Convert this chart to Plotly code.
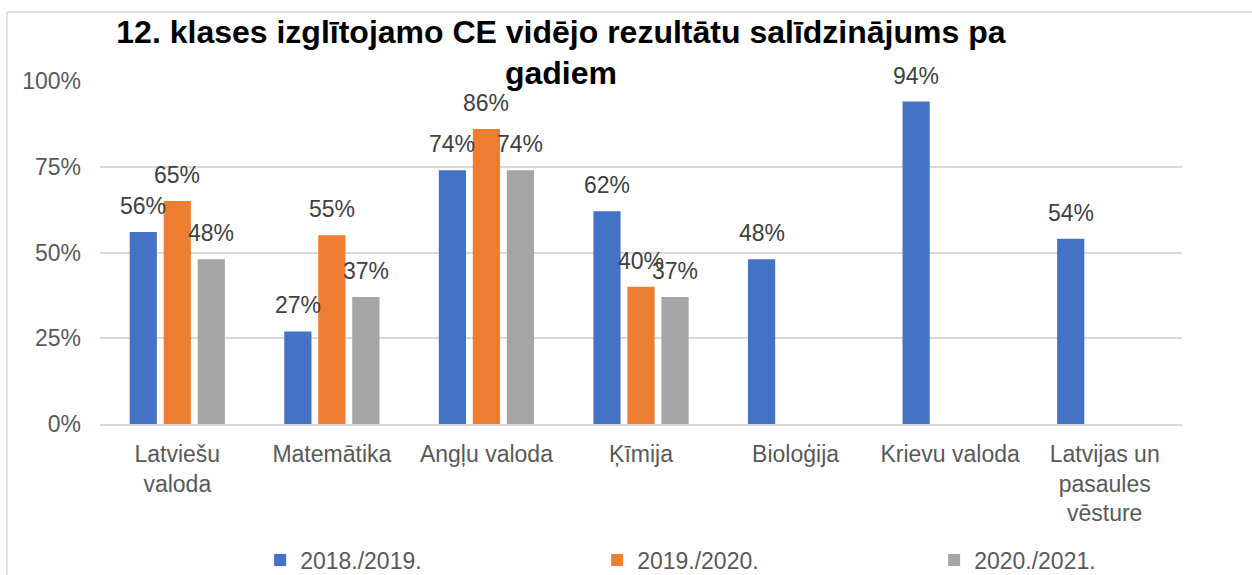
import plotly.graph_objects as go

categories = ["Latviešu valoda", "Matemātika", "Angļu valoda", "Ķīmija",
              "Bioloģija", "Krievu valoda", "Latvijas un pasaules vēsture"]
tick_labels = ["Latviešu<br>valoda", "Matemātika", "Angļu valoda", "Ķīmija",
               "Bioloģija", "Krievu valoda", "Latvijas un<br>pasaules<br>vēsture"]
series_names = ["2018./2019.", "2019./2020.", "2020./2021."]
v2018 = [56, 27, 74, 62, 48, 94, 54]
v2019 = [65, 55, 86, 40, None, None, None]
v2020 = [48, 37, 74, 37, None, None, None]
colors = ["#4472C4", "#ED7D31", "#A5A5A5"]

FONT = "Liberation Sans, Arial, sans-serif"
BARGAP = 0.34
N_SERIES = 3

fig = go.Figure()
for k, (name, vals, col) in enumerate(zip(series_names, [v2018, v2019, v2020], colors)):
    fig.add_trace(go.Bar(
        x=categories, y=vals, name=name,
        marker=dict(color=col, line=dict(width=0)),
        hoverinfo="skip",
    ))
    # data labels placed above each bar via the axis scales
    slot = (1 - BARGAP) / N_SERIES
    for i, v in enumerate(vals):
        if v is None:
            continue
        fig.add_annotation(
            x=i + (k - (N_SERIES - 1) / 2) * slot, y=v, xref="x", yref="y",
            text=f"{v}%", showarrow=False, yanchor="bottom", xanchor="center", yshift=11,
            font=dict(family=FONT, size=23, color="#404040"),
        )

# chart frame (light border, cropped)
fig.add_shape(type="line", xref="paper", yref="paper", x0=-0.086, x1=1.07, y0=1.201, y1=1.201,
              line=dict(color="#d9d9d9", width=1.5))
fig.add_shape(type="line", xref="paper", yref="paper", x0=-0.086, x1=-0.086, y0=1.201, y1=-0.45,
              line=dict(color="#d9d9d9", width=1.5))

fig.update_layout(
    width=1252, height=575,
    margin=dict(l=100, r=70, t=81, b=151, autoexpand=False),
    paper_bgcolor="white", plot_bgcolor="white",
    barmode="group", bargap=BARGAP, bargroupgap=0.2,
    font=dict(family=FONT, size=23, color="#595959"),
    title=dict(text="12. klases izglītojamo CE vidējo rezultātu salīdzinājums pa<br>gadiem",
               x=0.448, xanchor="center", xref="container", y=0.926, yanchor="top", yref="container",
               font=dict(family=FONT, size=32, color="#000000", weight="bold")),
    showlegend=True,
    legend=dict(orientation="h", x=0.148, xanchor="left", y=-0.397, yanchor="middle",
                entrywidth=292, entrywidthmode="pixels",
                font=dict(family=FONT, size=23, color="#595959"), traceorder="normal"),
    xaxis=dict(tickvals=categories, ticktext=tick_labels, showgrid=False, automargin=False,
               showline=True, linecolor="#d9d9d9", linewidth=2, ticks="", ticklabelstandoff=8,
               tickfont=dict(family=FONT, size=23, color="#595959")),
    yaxis=dict(range=[0, 100], dtick=25, ticksuffix="%", showgrid=True, gridcolor="#d9d9d9",
               gridwidth=1.5, zeroline=False, showline=False, ticks="", ticklabelstandoff=18,
               automargin=False,
               tickfont=dict(family=FONT, size=23, color="#595959")),
)

fig.write_html("out.html", config={"displayModeBar": False},
               post_script="document.body.style.margin='0px';")
